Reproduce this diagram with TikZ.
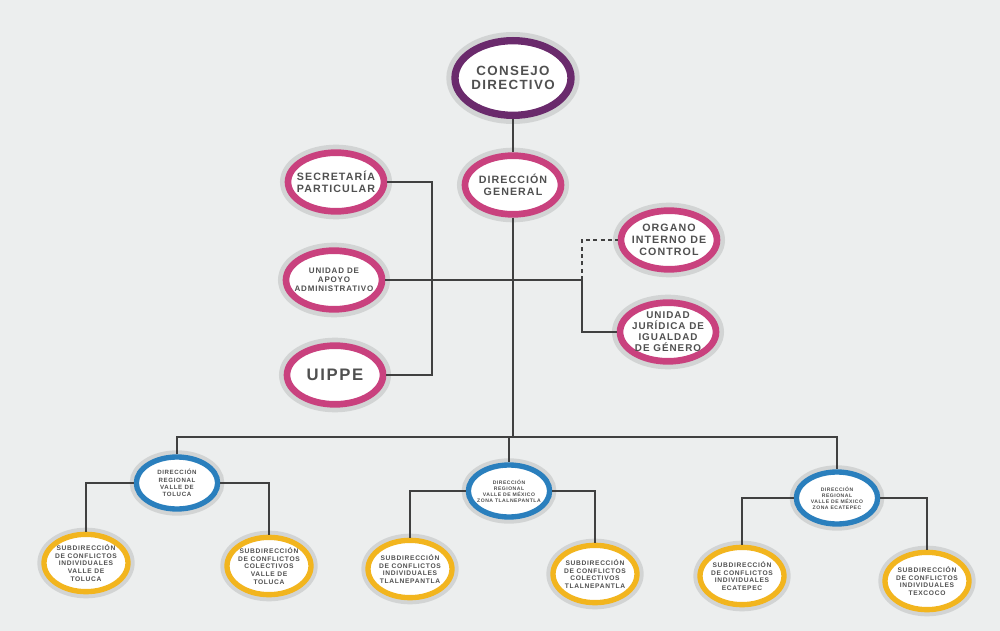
\documentclass[tikz,border=0pt]{standalone}
\usepackage{fontspec}
\setmainfont{Liberation Sans}
\newfontfamily\labfont[LetterSpace=10]{Liberation Sans}
\usetikzlibrary{shapes.geometric}
\definecolor{bg}{HTML}{ECEEEE}
\definecolor{halo}{HTML}{D2D4D4}
\definecolor{txt}{HTML}{505050}
\definecolor{ringpurple}{HTML}{6A2A6C}
\definecolor{ringmag}{HTML}{C9417E}
\definecolor{ringblue}{HTML}{2A7FBD}
\definecolor{ringyel}{HTML}{F2B51E}
\definecolor{lin}{HTML}{404040}
\tikzset{
  oval/.style={ellipse, fill=white, inner sep=-8pt, align=center, text=txt},
  cdnode/.style={oval, draw=ringpurple, line width=5.5pt,
    preaction={draw=halo, line width=13pt},
    minimum width=87pt, minimum height=56pt,
    font=\labfont\bfseries\fontsize{10}{11}\selectfont},
  mag/.style={oval, draw=ringmag, line width=5pt,
    preaction={draw=halo, line width=12pt},
    minimum width=72pt, minimum height=44pt,
    font=\labfont\bfseries\fontsize{8}{9}\selectfont},
  reg/.style={oval, draw=ringblue, line width=4pt,
    preaction={draw=halo, line width=10pt},
    minimum width=61pt, minimum height=39pt,
    font=\labfont\bfseries\fontsize{3.8}{4.6}\selectfont},
  sub/.style={oval, draw=ringyel, line width=4pt,
    preaction={draw=halo, line width=10pt},
    minimum width=63pt, minimum height=43pt,
    font=\labfont\bfseries\fontsize{5}{5.8}\selectfont},
  conn/.style={draw=lin, line width=2.2pt},
}
\begin{document}
\begin{tikzpicture}[x=0.75pt, y=-0.75pt]
\fill[bg] (0,0) rectangle (1000,631);
\useasboundingbox (0,0) rectangle (1000,631);

% nodes
\node[cdnode] (cd) at (513,78) {CONSEJO\\DIRECTIVO};
\node[mag] (dg) at (513,185) {DIRECCIÓN\\GENERAL};
\node[mag] (sp) at (336,182) {SECRETARÍA\\PARTICULAR};
\node[mag, font=\labfont\bfseries\fontsize{6}{6.8}\selectfont] (uaa) at (334,280) {UNIDAD DE\\APOYO\\ADMINISTRATIVO};
\node[mag, font=\labfont\bfseries\fontsize{12.5}{12}\selectfont] (uippe) at (335,375) {UIPPE};
\node[mag] (oic) at (669,240) {ORGANO\\INTERNO DE\\CONTROL};
\node[mag, font=\labfont\bfseries\fontsize{7.4}{8.2}\selectfont] (uj) at (668,332) {UNIDAD\\JURÍDICA DE\\IGUALDAD\\DE GÉNERO};

\node[reg, font=\labfont\bfseries\fontsize{4.6}{5.4}\selectfont] (drt) at (177,483) {DIRECCIÓN\\REGIONAL\\VALLE DE\\TOLUCA};
\node[reg] (drtl) at (509,491) {DIRECCIÓN\\REGIONAL\\VALLE DE MÉXICO\\ZONA TLALNEPANTLA};
\node[reg] (dre) at (837,498) {DIRECCIÓN\\REGIONAL\\VALLE DE MÉXICO\\ZONA ECATEPEC};

\node[sub] (sit) at (86,563) {SUBDIRECCIÓN\\DE CONFLICTOS\\INDIVIDUALES\\VALLE DE\\TOLUCA};
\node[sub] (sct) at (269,566) {SUBDIRECCIÓN\\DE CONFLICTOS\\COLECTIVOS\\VALLE DE\\TOLUCA};
\node[sub] (sitl) at (410,569) {SUBDIRECCIÓN\\DE CONFLICTOS\\INDIVIDUALES\\TLALNEPANTLA};
\node[sub] (sctl) at (595,574) {SUBDIRECCIÓN\\DE CONFLICTOS\\COLECTIVOS\\TLALNEPANTLA};
\node[sub] (sie) at (742,576) {SUBDIRECCIÓN\\DE CONFLICTOS\\INDIVIDUALES\\ECATEPEC};
\node[sub] (six) at (927,581) {SUBDIRECCIÓN\\DE CONFLICTOS\\INDIVIDUALES\\TEXCOCO};

% junction coordinates
\coordinate (j1) at (432,0);
\coordinate (j2) at (582,0);
\coordinate (bus) at (0,437);

% connectors
\draw[conn] (cd.south) -- (dg.north);
\draw[conn] (dg.south) -- (dg.south |- bus);
\draw[conn] (sp.east) -| (j1 |- uippe.east) -- (uippe.east);
\draw[conn] (uaa.east) -- (j2 |- uaa.east) |- (uj.west);
\draw[conn, line width=1.6pt, dashed, dash pattern=on 3pt off 2.5pt] (j2 |- uaa.east) |- (oic.west);
\draw[conn] (drt.north) -- (drt.north |- bus) -- (dre.north |- bus) -- (dre.north);
\draw[conn] (drtl.north |- bus) -- (drtl.north);
\draw[conn] (drt.west) -| (sit.north);
\draw[conn] (drt.east) -| (sct.north);
\draw[conn] (drtl.west) -| (sitl.north);
\draw[conn] (drtl.east) -| (sctl.north);
\draw[conn] (dre.west) -| (sie.north);
\draw[conn] (dre.east) -| (six.north);
\end{tikzpicture}
\end{document}
